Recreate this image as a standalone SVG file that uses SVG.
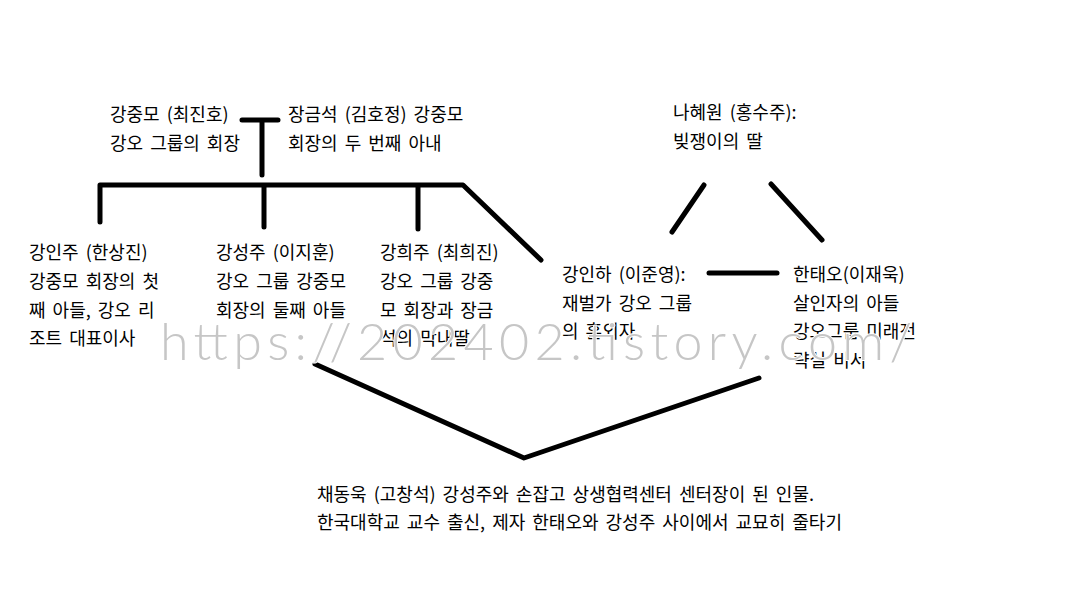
<svg xmlns="http://www.w3.org/2000/svg" width="1080" height="615" viewBox="0 0 1080 615">
<style>
.t{font-family:"Noto Sans CJK KR","Liberation Sans",sans-serif;font-size:18px;fill:#000;word-spacing:3px}
.c{fill:none;stroke:#000;stroke-width:5;stroke-linecap:round;stroke-linejoin:round}
.wm{font-family:Lato,"DejaVu Sans",sans-serif;font-weight:300;font-size:52px;fill:#c6c6c6;stroke:#fff;stroke-width:2;paint-order:stroke}
</style>
<rect width="1080" height="615" fill="#fff"/>
<g id="connectors">
<path class="c" d="M242,120 H278 M262,120 V175"/>
<path class="c" d="M100,222 V185 H463 L541,260 M264,185 V227 M418,185 V229"/>
<path class="c" d="M704,185 L672,232 M771,184 L822,240"/>
<path class="c" d="M709,273 H777"/>
<path class="c" d="M315,364 L524,458 L759,378"/>
</g>
<g id="kang-jungmo"><text class="t" x="110" y="121">강중모 (최진호)</text><text class="t" x="110" y="150">강오 그룹의 회장</text></g>
<g id="jang-geumseok"><text class="t" x="288" y="121">장금석 (김호정) 강중모</text><text class="t" x="288" y="150">회장의 두 번째 아내</text></g>
<g id="na-hyewon"><text class="t" x="673" y="119">나혜원 (홍수주):</text><text class="t" x="673" y="148">빚쟁이의 딸</text></g>
<g id="kang-inju"><text class="t" x="29" y="259">강인주 (한상진)</text><text class="t" x="29" y="288">강중모 회장의 첫</text><text class="t" x="29" y="317">째 아들, 강오 리</text><text class="t" x="29" y="345">조트 대표이사</text></g>
<g id="kang-seongju"><text class="t" x="216" y="259">강성주 (이지훈)</text><text class="t" x="216" y="288">강오 그룹 강중모</text><text class="t" x="216" y="317">회장의 둘째 아들</text></g>
<g id="kang-heeju"><text class="t" x="380" y="259">강희주 (최희진)</text><text class="t" x="380" y="288">강오 그룹 강중</text><text class="t" x="380" y="317">모 회장과 장금</text><text class="t" x="380" y="345">석의 막내딸</text></g>
<g id="kang-inha"><text class="t" x="562" y="281">강인하 (이준영):</text><text class="t" x="562" y="310">재벌가 강오 그룹</text><text class="t" x="562" y="338">의 혼외자</text></g>
<g id="han-taeo"><text class="t" x="793" y="281">한태오(이재욱)</text><text class="t" x="793" y="310">살인자의 아들</text><text class="t" x="793" y="338">강오그룹 미래전</text><text class="t" x="793" y="367">략실 비서</text></g>
<g id="chae-dongwook"><text class="t" x="317" y="501">채동욱 (고창석) 강성주와 손잡고 상생협력센터 센터장이 된 인물.</text><text class="t" x="317" y="529">한국대학교 교수 출신, 제자 한태오와 강성주 사이에서 교묘히 줄타기</text></g>
<text class="wm" x="160" y="360" textLength="752" lengthAdjust="spacing">https://202402.tistory.com/</text>
</svg>
